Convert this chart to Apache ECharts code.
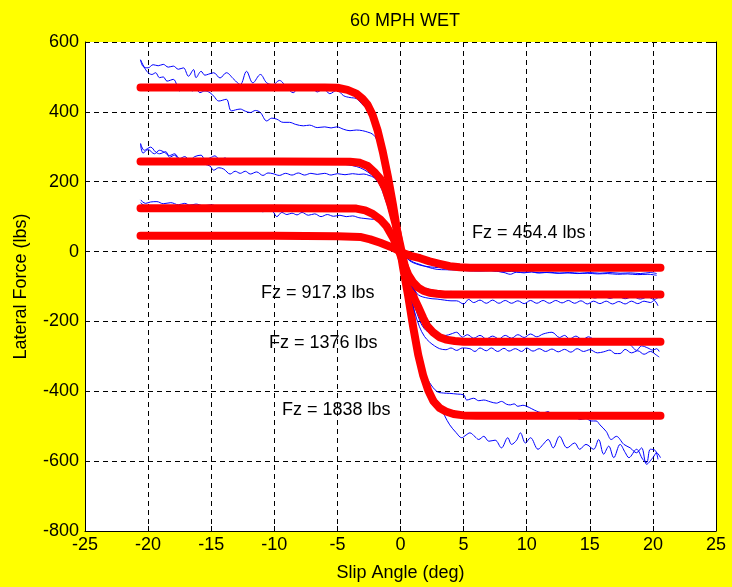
<!DOCTYPE html>
<html>
<head>
<meta charset="utf-8">
<title>60 MPH WET</title>
<script src="https://cdn.jsdelivr.net/npm/echarts@6/dist/echarts.min.js"></script>
<style>
    html, body { margin: 0; padding: 0; background: #ffff00; }
    #main { width: 732px; height: 587px; }
</style>
</head>
<body>
<div id="main"></div>
<script>
// axis ticks
var xTicks = [-25, -20, -15, -10, -5, 0, 5, 10, 15, 20, 25];
var yTicks = [-800, -600, -400, -200, 0, 200, 400, 600];

// fitted curves (red), [slip angle, lateral force]
var fit1838 = [[-20.6, 470], [-15, 470], [-10, 470], [-6, 470], [-5, 469], [-4.2, 463], [-3.5, 452], [-3.0, 437], [-2.6, 420], [-2.2, 390], [-1.8, 345], [-1.4, 285], [-1.0, 215], [-0.6, 135], [-0.2, 45], [0.2, -45], [0.6, -125], [1.0, -215], [1.4, -295], [1.8, -355], [2.2, -398], [2.6, -428], [3.1, -448], [3.6, -458], [4.2, -465], [5.0, -469], [6, -470], [10, -470], [15, -470], [20.6, -470]];
var fit1376 = [[-20.6, 258], [-10, 258], [-4, 257], [-3.2, 254], [-2.6, 245], [-2.0, 225], [-1.6, 208], [-1.2, 180], [-0.8, 135], [-0.4, 80], [0, 15], [0.3, -35], [0.75, -98], [1.1, -135], [1.4, -158], [1.8, -190], [2.1, -212], [2.6, -232], [3.1, -245], [3.6, -252], [4.3, -256], [5, -258], [10, -258], [20.6, -258]];
var fit917 = [[-20.6, 124], [-10, 124], [-3.5, 123], [-2.8, 118], [-2.2, 108], [-1.6, 92], [-1.1, 72], [-0.6, 40], [-0.2, 10], [0.2, -30], [0.6, -65], [1.0, -88], [1.4, -103], [1.8, -112], [2.3, -118], [2.9, -121], [3.5, -123], [10, -123], [20.6, -123]];
var fit454 = [[-20.6, 45], [-10, 45], [-5, 44], [-3.2, 42], [-2.4, 35], [-1.6, 25], [-0.6, 11], [0.2, -4], [0.8, -12], [1.55, -19], [2.3, -28], [3.1, -35], [3.9, -42], [4.7, -45], [5.5, -46], [10, -46], [20.6, -46]];

// measured runs (blue), two per load
var run1838a = [[-20.6, 549], [-20.4, 530], [-20.0, 526], [-19.6, 535], [-19.2, 532], [-18.8, 536], [-18.4, 528], [-18.0, 531], [-17.6, 522], [-17.2, 526], [-16.8, 502], [-16.4, 521], [-16.2, 498], [-15.8, 516], [-15.5, 505], [-15.2, 508], [-14.8, 512], [-14.3, 497], [-13.8, 512], [-13.2, 493], [-12.7, 478], [-12.2, 516], [-11.7, 483], [-11.1, 507], [-10.6, 483], [-10.1, 478], [-9.6, 490], [-9.0, 469], [-8.5, 455], [-8.0, 474], [-7.6, 462], [-7.1, 470], [-6.6, 457], [-6.1, 466], [-5.6, 452], [-5.05, 462], [-4.5, 446], [-4.0, 441], [-3.5, 438], [-3.1, 424], [-2.6, 405], [-2.2, 380], [-1.8, 330], [-1.4, 270], [-1.0, 200], [-0.6, 120], [-0.2, 40], [0.2, -40], [0.6, -130], [1.0, -220], [1.4, -290], [1.8, -340], [2.3, -375], [2.9, -401], [3.4, -405], [3.9, -406], [4.5, -408], [5.0, -410], [5.25, -425], [5.8, -420], [6.2, -427], [6.6, -425], [7.1, -430], [7.6, -434], [8.0, -429], [8.4, -437], [8.7, -439], [9.0, -436], [9.3, -443], [9.7, -440], [10.0, -443], [10.4, -450], [10.8, -457], [11.3, -462], [11.7, -458], [12.1, -470], [12.5, -466], [12.9, -474], [13.4, -477], [13.8, -472], [14.2, -481], [14.7, -478], [15.1, -485], [15.5, -485], [15.8, -496], [16.3, -515], [16.7, -538], [17.1, -529], [17.7, -552], [18.2, -562], [18.7, -576], [19.1, -562], [19.5, -609], [20.0, -590], [20.3, -576], [20.6, -590]];
var run1838b = [[-20.6, 549], [-20.1, 516], [-19.7, 507], [-19.4, 512], [-19.1, 498], [-18.8, 500], [-18.5, 488], [-18.0, 493], [-17.5, 460], [-17.2, 478], [-16.8, 470], [-16.5, 460], [-16.2, 466], [-15.9, 455], [-15.5, 460], [-15.1, 455], [-14.8, 445], [-14.4, 431], [-13.8, 436], [-13.4, 403], [-12.7, 408], [-12.3, 402], [-11.9, 398], [-11.5, 404], [-11.1, 398], [-10.6, 374], [-10.2, 382], [-9.8, 379], [-9.3, 370], [-8.8, 370], [-8.3, 364], [-7.7, 360], [-7.2, 362], [-6.6, 355], [-6.0, 357], [-5.5, 354], [-5.05, 357], [-4.5, 350], [-4.0, 346], [-3.5, 348], [-3.0, 346], [-2.6, 342], [-2.2, 336], [-1.9, 322], [-1.5, 285], [-1.1, 220], [-0.7, 140], [-0.3, 50], [0.1, -30], [0.5, -120], [0.9, -210], [1.3, -290], [1.7, -350], [2.1, -385], [2.5, -405], [3.1, -439], [3.5, -470], [3.9, -496], [4.4, -518], [4.85, -533], [5.2, -525], [5.5, -519], [5.9, -530], [6.2, -538], [6.6, -529], [7.0, -543], [7.5, -540], [8.0, -562], [8.5, -533], [8.8, -552], [9.2, -540], [9.5, -519], [9.9, -548], [10.3, -533], [10.9, -566], [11.3, -552], [11.7, -538], [12.1, -562], [12.6, -529], [13.2, -562], [13.8, -548], [14.2, -566], [14.7, -552], [15.3, -566], [15.7, -538], [16.1, -580], [16.5, -557], [16.9, -590], [17.4, -552], [17.8, -575], [18.1, -590], [18.7, -566], [19.2, -595], [19.5, -604], [19.8, -566], [20.2, -570], [20.4, -595]];
var run1376a = [[-20.6, 308], [-20.4, 282], [-20.0, 292], [-19.5, 280], [-19.1, 290], [-18.7, 284], [-18.3, 275], [-17.9, 280], [-17.5, 266], [-17.1, 272], [-16.7, 262], [-16.3, 272], [-15.8, 276], [-15.5, 264], [-15.1, 268], [-14.7, 274], [-14.3, 262], [-13.9, 268], [-13.5, 258], [-13.0, 262], [-12.4, 256], [-11.8, 262], [-11.2, 254], [-10.5, 258], [-10.1, 252], [-9.4, 256], [-8.7, 252], [-8.0, 257], [-7.3, 251], [-6.6, 255], [-5.9, 250], [-5.2, 254], [-4.5, 250], [-3.8, 246], [-3.2, 240], [-2.6, 228], [-2.0, 210], [-1.5, 185], [-1.0, 140], [-0.6, 90], [-0.2, 35], [0.2, -25], [0.6, -85], [1.0, -140], [1.55, -200], [2.0, -225], [2.6, -236], [3.1, -240], [3.6, -240], [4.0, -236], [4.45, -231], [4.9, -245], [5.3, -238], [5.8, -248], [6.3, -240], [6.8, -250], [7.3, -242], [7.8, -250], [8.3, -240], [8.8, -248], [9.3, -238], [9.8, -246], [10.3, -236], [10.8, -244], [11.3, -236], [12.0, -231], [12.6, -246], [13.0, -240], [13.4, -250], [13.9, -242], [14.4, -252], [14.9, -244], [15.5, -254], [16.0, -250], [16.5, -258], [17.0, -256], [17.4, -264], [17.9, -262], [18.3, -270], [18.7, -283], [19.1, -270], [19.6, -276], [20.0, -282], [20.3, -278], [20.5, -286]];
var run1376b = [[-20.6, 310], [-20.3, 290], [-19.8, 299], [-19.4, 285], [-19.1, 280], [-18.6, 286], [-18.3, 270], [-17.9, 276], [-17.5, 262], [-17.1, 266], [-16.7, 256], [-16.3, 262], [-15.9, 258], [-15.5, 250], [-15.1, 245], [-14.8, 233], [-14.4, 240], [-14.0, 236], [-13.5, 222], [-13.1, 230], [-12.7, 224], [-12.3, 230], [-11.9, 222], [-11.4, 228], [-10.9, 218], [-10.5, 225], [-10.1, 223], [-9.6, 218], [-9.1, 224], [-8.6, 219], [-8.1, 225], [-7.6, 219], [-7.1, 224], [-6.6, 221], [-6.0, 224], [-5.5, 219], [-5.0, 223], [-4.4, 220], [-3.8, 223], [-3.3, 221], [-2.9, 222], [-2.5, 218], [-2.1, 212], [-1.7, 195], [-1.3, 160], [-0.9, 115], [-0.5, 65], [-0.1, 10], [0.3, -50], [0.7, -110], [1.1, -170], [1.5, -215], [1.9, -243], [2.3, -259], [2.7, -270], [3.1, -278], [3.6, -281], [4.0, -276], [4.45, -283], [4.9, -276], [5.5, -278], [5.9, -286], [6.3, -276], [6.8, -284], [7.2, -276], [7.7, -286], [8.2, -277], [8.6, -285], [9.1, -278], [9.6, -286], [10.0, -276], [10.5, -285], [11.0, -278], [11.5, -286], [12.0, -279], [12.5, -287], [13.0, -280], [13.5, -288], [14.0, -278], [14.5, -286], [15.0, -281], [15.6, -290], [16.1, -287], [16.6, -282], [17.0, -292], [17.4, -292], [17.8, -280], [18.3, -290], [18.8, -284], [19.3, -294], [19.8, -286], [20.3, -297], [20.5, -302]];
var run917a = [[-20.6, 148], [-20.2, 138], [-19.8, 142], [-19.3, 143], [-18.8, 137], [-18.2, 140], [-17.6, 134], [-17.1, 138], [-16.7, 133], [-16.2, 136], [-15.6, 131], [-15.0, 134], [-14.4, 129], [-13.9, 132], [-13.5, 128], [-12.9, 130], [-12.3, 124], [-11.8, 126], [-11.3, 120], [-10.9, 114], [-10.5, 118], [-10.1, 114], [-9.8, 100], [-9.4, 112], [-9.0, 106], [-8.6, 110], [-8.2, 105], [-7.8, 112], [-7.3, 104], [-6.8, 108], [-6.3, 100], [-5.8, 106], [-5.3, 101], [-4.8, 104], [-4.3, 100], [-3.8, 102], [-3.3, 97], [-2.9, 95], [-2.4, 93], [-1.9, 91], [-1.5, 80], [-1.1, 62], [-0.7, 40], [-0.3, 12], [0.1, -25], [0.5, -65], [0.9, -100], [1.3, -120], [1.55, -127], [2.0, -132], [2.5, -135], [2.9, -136], [3.5, -139], [4.0, -141], [4.45, -141], [5.0, -150], [5.4, -137], [5.8, -146], [6.3, -139], [6.8, -148], [7.3, -139], [7.8, -148], [8.3, -140], [8.8, -148], [9.3, -141], [9.8, -149], [10.3, -140], [10.8, -148], [11.3, -140], [11.8, -148], [12.3, -140], [12.8, -147], [13.3, -140], [13.8, -148], [14.3, -141], [14.8, -150], [15.3, -142], [15.8, -149], [16.3, -142], [16.8, -150], [17.3, -143], [17.8, -150], [18.3, -142], [18.8, -149], [19.3, -142], [19.8, -146], [20.1, -140], [20.4, -155]];
var run917b = [[-20.6, 140], [-20.3, 132], [-19.8, 130], [-19.2, 128], [-18.6, 131], [-18.0, 126], [-17.4, 130], [-16.8, 126], [-16.2, 129], [-15.6, 125], [-15.0, 128], [-14.3, 124], [-13.6, 127], [-12.9, 123], [-12.2, 126], [-11.5, 122], [-10.8, 125], [-10.0, 121], [-9.2, 124], [-8.4, 120], [-7.6, 123], [-6.8, 119], [-6.0, 122], [-5.2, 118], [-4.4, 120], [-3.6, 117], [-3.0, 113], [-2.5, 106], [-2.0, 96], [-1.5, 82], [-1.0, 62], [-0.6, 38], [-0.2, 8], [0.2, -28], [0.5, -62], [0.9, -88], [1.3, -100], [1.8, -103], [2.3, -108], [2.9, -113], [3.5, -116], [4.0, -114], [4.45, -117], [5.0, -124], [5.5, -118], [6.0, -126], [6.5, -120], [7.0, -127], [7.6, -121], [8.2, -128], [8.8, -122], [9.4, -129], [10.0, -123], [10.6, -130], [11.2, -124], [11.8, -131], [12.4, -125], [13.0, -131], [13.6, -125], [14.2, -132], [14.8, -126], [15.4, -133], [16.0, -127], [16.6, -134], [17.2, -128], [17.8, -135], [18.4, -129], [19.0, -136], [19.6, -130], [20.1, -137], [20.4, -132]];
var run454a = [[-20.6, 52], [-20.2, 48], [-19.6, 50], [-18.8, 47], [-18.0, 49], [-17.2, 46], [-16.4, 48], [-15.6, 45], [-14.8, 47], [-14.0, 44], [-13.2, 46], [-12.4, 43], [-11.6, 45], [-10.8, 42], [-10.0, 44], [-9.2, 41], [-8.4, 43], [-7.6, 40], [-6.8, 42], [-6.0, 39], [-5.2, 40], [-4.4, 37], [-3.6, 36], [-2.8, 33], [-2.0, 28], [-1.4, 22], [-0.8, 14], [-0.3, 6], [0.2, -6], [0.5, -18], [1.0, -30], [1.55, -37], [2.2, -45], [2.9, -51], [3.6, -52], [4.45, -53], [5.3, -55], [6.3, -56], [7.2, -55], [8.0, -58], [8.8, -57], [9.6, -59], [10.4, -58], [10.8, -61], [11.6, -60], [12.4, -62], [13.2, -61], [14.0, -63], [14.8, -62], [15.6, -64], [16.4, -63], [17.2, -65], [18.0, -64], [18.8, -66], [19.6, -65], [20.3, -68]];
var run454b = [[-20.6, 46], [-20.0, 44], [-19.0, 45], [-18.0, 43], [-17.0, 45], [-16.0, 43], [-15.0, 44], [-14.0, 42], [-13.0, 44], [-12.0, 42], [-11.0, 43], [-10.0, 41], [-9.0, 42], [-8.0, 40], [-7.0, 41], [-6.0, 39], [-5.0, 40], [-4.0, 38], [-3.2, 36], [-2.4, 30], [-1.6, 22], [-1.0, 14], [-0.4, 5], [0.2, -8], [0.75, -27], [1.3, -36], [1.8, -41], [2.4, -44], [3.0, -46], [3.8, -48], [4.6, -50], [5.4, -51], [6.2, -52], [7.0, -54], [7.6, -56], [8.2, -60], [8.7, -65], [9.2, -59], [9.8, -61], [10.4, -58], [11.0, -61], [11.8, -59], [12.6, -62], [13.4, -60], [14.2, -62], [15.0, -60], [15.8, -62], [16.6, -60], [17.4, -62], [18.2, -61], [19.0, -63], [19.8, -60], [20.3, -63]];

var loads = ['Fz = 1838 lbs', 'Fz = 1376 lbs', 'Fz = 917.3 lbs', 'Fz = 454.4 lbs'];

var font = 'Liberation Sans, Arial, sans-serif';

function runLine(d) {
    return {
        type: 'line', data: d, showSymbol: false, silent: true, smooth: 0.35,
        lineStyle: { color: '#0000ff', width: 1 }
    };
}
function fitLine(d) {
    return {
        type: 'line', data: d, showSymbol: false, silent: true,
        lineStyle: { color: '#ff0000', width: 8, cap: 'round', join: 'round' }
    };
}

var dom = document.getElementById('main');
var myChart = echarts.init(dom);
var option = {
    animation: false,
    backgroundColor: '#ffff00',
    textStyle: { fontFamily: font },
    title: {
        text: '60 MPH WET',
        left: 400, top: 7, textAlign: 'center',
        textStyle: { fontFamily: font, fontSize: 18, fontWeight: 'normal', color: '#000' }
    },
    grid: {
        left: 85, right: 16, top: 42, bottom: 54,
        show: true, backgroundColor: '#fff', borderWidth: 0
    },
    xAxis: [{
        type: 'value', min: xTicks[0], max: xTicks[xTicks.length - 1], interval: 5,
        name: 'Slip Angle (deg)', nameLocation: 'middle', nameGap: 33,
        nameTextStyle: { fontFamily: font, fontSize: 18, color: '#000' },
        axisLine: { onZero: false, lineStyle: { color: '#000', width: 1 } },
        axisTick: { inside: true, length: 5, lineStyle: { color: '#000' } },
        axisLabel: { fontFamily: font, fontSize: 18, color: '#000', margin: 5 },
        splitLine: { show: true, lineStyle: { color: '#000', width: 1, type: [5, 4] } }
    }, {
        type: 'value', position: 'top', min: xTicks[0], max: xTicks[xTicks.length - 1], interval: 5,
        axisLine: { show: false, onZero: false },
        axisTick: { inside: true, length: 5, lineStyle: { color: '#000' } },
        axisLabel: { show: false },
        splitLine: { show: false }
    }],
    yAxis: [{
        type: 'value', min: yTicks[0], max: yTicks[yTicks.length - 1], interval: 200,
        name: 'Lateral Force (lbs)', nameLocation: 'middle', nameGap: 55,
        nameTextStyle: { fontFamily: font, fontSize: 18, color: '#000' },
        axisLine: { show: true, onZero: false, lineStyle: { color: '#000', width: 1 } },
        axisTick: { show: true, inside: true, length: 5, lineStyle: { color: '#000' } },
        axisLabel: { fontFamily: font, fontSize: 18, color: '#000', margin: 6 },
        splitLine: { show: true, lineStyle: { color: '#000', width: 1, type: [5, 4] } }
    }, {
        type: 'value', position: 'right', min: yTicks[0], max: yTicks[yTicks.length - 1], interval: 200,
        axisLine: { show: true, onZero: false, lineStyle: { color: '#000', width: 1 } },
        axisTick: { show: true, inside: true, length: 5, lineStyle: { color: '#000' } },
        axisLabel: { show: false },
        splitLine: { show: false }
    }],
    series: [
        runLine(run1838a), runLine(run1838b), fitLine(fit1838),
        runLine(run1376a), runLine(run1376b), fitLine(fit1376),
        runLine(run917a), runLine(run917b), fitLine(fit917),
        runLine(run454a), runLine(run454b), fitLine(fit454)
    ],
    // load labels
    graphic: [
        { type: 'text', left: 472, top: 224, style: { text: loads[3], font: '18px ' + font, fill: '#000' } },
        { type: 'text', left: 261, top: 284, style: { text: loads[2], font: '18px ' + font, fill: '#000' } },
        { type: 'text', left: 269, top: 334, style: { text: loads[1], font: '18px ' + font, fill: '#000' } },
        { type: 'text', left: 282, top: 401, style: { text: loads[0], font: '18px ' + font, fill: '#000' } }
    ]
};
myChart.setOption(option, true);
window.onresize = myChart.resize;
</script>
</body>
</html>
